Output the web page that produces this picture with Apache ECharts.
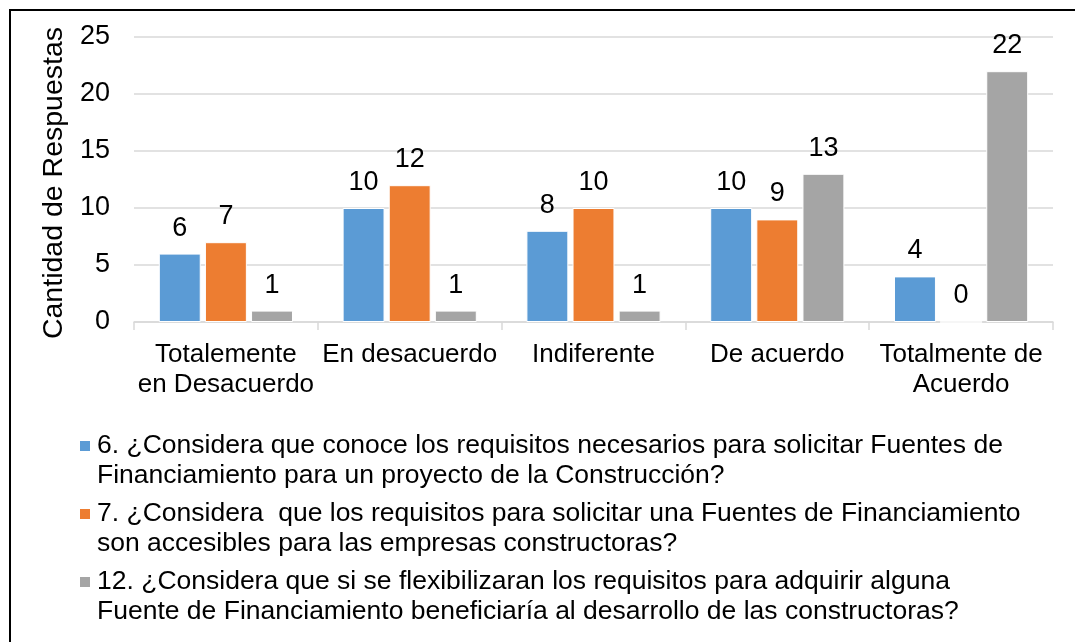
<!DOCTYPE html>
<html>
<head>
<meta charset="utf-8">
<script src="https://cdn.jsdelivr.net/npm/echarts@6/dist/echarts.min.js"></script>
<style>
  html, body { margin: 0; padding: 0; background: #fff; }
  #main { width: 1075px; height: 642px; }
</style>
</head>
<body>
<div id="main"></div>
<script>
const categories = ['Totalemente\nen Desacuerdo', 'En desacuerdo', 'Indiferente', 'De acuerdo', 'Totalmente de\nAcuerdo']
const q6 = [6, 10, 8, 10, 4]
const q7 = [7, 12, 10, 9, 0]
const q12 = [1, 1, 1, 13, 22]
const seriesNames = ['P6', 'P7', 'P12']
const legendLines = [
    ['6. ¿Considera que conoce los requisitos necesarios para solicitar Fuentes de', 'Financiamiento para un proyecto de la Construcción?'],
    ['7. ¿Considera  que los requisitos para solicitar una Fuentes de Financiamiento', 'son accesibles para las empresas constructoras?'],
    ['12. ¿Considera que si se flexibilizaran los requisitos para adquirir alguna', 'Fuente de Financiamiento beneficiaría al desarrollo de las constructoras?']
]
const colors = ['#5B9BD5', '#ED7D31', '#A5A5A5']
const yTicks = { min: 0, max: 25, interval: 5 }

const FONT = "'Liberation Sans', Arial, sans-serif"
const chart = echarts.init(document.getElementById('main'))

// marcador cuadrado del legend como texto enriquecido, alineado con la primera linea
const rich = { g: { width: 7 }, s: { width: 17 } }
colors.forEach((c, i) => {
    rich['m' + i] = { width: 10, height: 10, backgroundColor: c }
})

const makeBar = (name, data, i) => ({
    name,
    type: 'bar',
    data,
    barGap: '10%',
    barCategoryGap: '27%',
    itemStyle: { color: colors[i], borderColor: '#fff', borderWidth: 1 },
    label: {
        show: true,
        position: 'top',
        distance: 12,
        color: '#000',
        fontSize: 27,
        fontFamily: FONT
    }
})

chart.setOption({
    animation: false,
    graphic: [{
        type: 'rect',
        shape: { x: 10, y: 10, width: 1200, height: 800 },
        style: { fill: 'none', stroke: '#000', lineWidth: 2 },
        silent: true
    }],
    grid: { left: 134, right: 22, top: 37, bottom: 320 },
    legend: {
        orient: 'vertical',
        left: 69,
        top: 426,
        itemGap: 8,
        itemWidth: 0,
        itemHeight: 0,
        data: seriesNames,
        formatter: name => {
            const i = seriesNames.indexOf(name)
            return '{m' + i + '|}{g|}' + legendLines[i][0] + '\n{s|}' + legendLines[i][1]
        },
        textStyle: {
            fontSize: 26.5,
            lineHeight: 30,
            color: '#000',
            fontFamily: FONT,
            rich
        }
    },
    xAxis: {
        type: 'category',
        data: categories,
        axisLine: { lineStyle: { color: '#d9d9d9', width: 1.5 } },
        axisTick: { show: true, length: 8, lineStyle: { color: '#d9d9d9', width: 1.5 } },
        axisLabel: {
            color: '#000',
            fontSize: 26,
            lineHeight: 30,
            fontFamily: FONT,
            margin: 18,
            interval: 0
        }
    },
    yAxis: {
        type: 'value',
        min: yTicks.min,
        max: yTicks.max,
        interval: yTicks.interval,
        name: 'Cantidad de Respuestas',
        nameLocation: 'middle',
        nameGap: 48,
        nameTextStyle: { color: '#000', fontSize: 28.5, fontFamily: FONT, padding: [0, 7, 0, 0] },
        axisLine: { show: false },
        axisTick: { show: false },
        splitLine: { lineStyle: { color: '#d9d9d9', width: 1.5 } },
        axisLabel: { color: '#000', fontSize: 27, fontFamily: FONT, margin: 24 }
    },
    series: [
        makeBar(seriesNames[0], q6, 0),
        makeBar(seriesNames[1], q7, 1),
        makeBar(seriesNames[2], q12, 2)
    ]
})
</script>
</body>
</html>
